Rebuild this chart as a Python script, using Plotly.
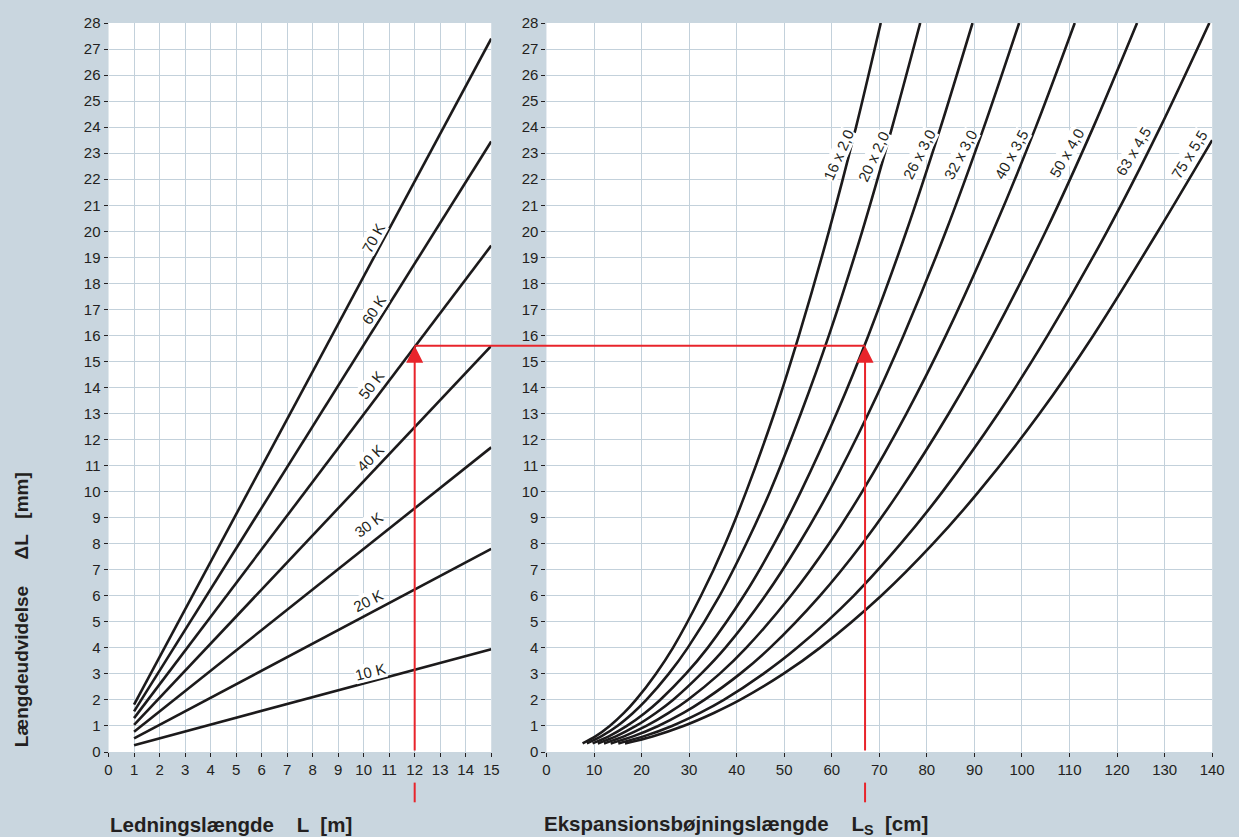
import plotly.graph_objects as go

# ---------------- data ----------------
# Left chart: linear expansion vs pipe length for temperature differences
delta_t = [10, 20, 30, 40, 50, 60, 70]
delta_t_labels = ["10 K", "20 K", "30 K", "40 K", "50 K", "60 K", "70 K"]
pipe_len_start = 1
pipe_len_end = 15
dl_at_start = [0.26, 0.52, 0.78, 1.04, 1.30, 1.56, 1.82]
dl_at_end = [3.95, 7.80, 11.70, 15.60, 19.45, 23.45, 27.40]

# Right chart: expansion bend length (cm) read at these ΔL levels (mm)
dl_levels = [0.33, 0.6, 1, 1.5, 2, 3, 4, 6, 8, 10, 13, 16, 20, 24, 28]
ls_16x20 = [7.6, 10.3, 13.3, 16.3, 18.8, 23.0, 26.6, 32.5, 37.6, 42.0, 47.9, 53.1, 59.4, 65.1, 70.3]
ls_20x20 = [8.5, 11.5, 14.9, 18.2, 21.0, 25.7, 29.7, 36.4, 42.0, 47.0, 53.5, 59.4, 66.4, 72.7, 78.6]
ls_26x30 = [9.7, 13.1, 16.9, 20.7, 23.9, 29.3, 33.9, 41.5, 47.9, 53.5, 61.0, 67.7, 75.7, 82.9, 89.6]
ls_32x30 = [10.8, 14.6, 18.8, 23.0, 26.6, 32.5, 37.6, 46.0, 53.1, 59.4, 67.7, 75.1, 84.0, 92.0, 99.4]
ls_40x35 = [12.1, 16.3, 21.0, 25.7, 29.7, 36.4, 42.0, 51.4, 59.4, 66.4, 75.7, 84.0, 93.9, 102.9, 111.1]
ls_50x40 = [13.5, 18.2, 23.5, 28.8, 33.2, 40.7, 47.0, 57.5, 66.4, 74.2, 84.6, 93.9, 105.0, 115.0, 124.2]
ls_63x45 = [15.1, 20.4, 26.4, 32.3, 37.3, 45.6, 52.7, 64.6, 74.5, 83.3, 95.0, 105.4, 117.9, 129.1, 139.4]
dl_levels_75 = [0.33, 0.6, 1, 1.5, 2, 3, 4, 6, 8, 10, 13, 16, 20, 23.5]
ls_75x55 = [16.5, 22.3, 28.8, 35.2, 40.7, 49.8, 57.5, 70.4, 81.3, 90.9, 103.7, 115.0, 128.6, 140.0]
pipe_labels = ["16 x 2,0", "20 x 2,0", "26 x 3,0", "32 x 3,0", "40 x 3,5", "50 x 4,0", "63 x 4,5", "75 x 5,5"]

# Example reading (red construction)
ex_len = 12
ex_dl = 15.6
ex_ls = 67

# Tick labels
left_x_ticks = list(range(0, 16))
right_x_ticks = list(range(0, 141, 10))
y_ticks = list(range(0, 29))

# ---------------- style ----------------
BG = "#c9d6df"
GRID = "#c3d1db"
INK = "#1c1a1b"
TXT = "#231f20"
RED = "#e8242b"
FONT = "Liberation Sans, Arial, sans-serif"

W, H = 1239, 837
L_DOM = [106 / W, 494 / W]
R_DOM = [550 / W, 1225 / W]

fig = go.Figure()

# left lines
for a, b in zip(dl_at_start, dl_at_end):
    fig.add_trace(go.Scatter(x=[pipe_len_start, pipe_len_end], y=[a, b], mode="lines",
                             line=dict(color=INK, width=2.6), xaxis="x", yaxis="y",
                             hoverinfo="skip", showlegend=False))

# right curves
curves = [(dl_levels, ls_16x20), (dl_levels, ls_20x20), (dl_levels, ls_26x30), (dl_levels, ls_32x30),
          (dl_levels, ls_40x35), (dl_levels, ls_50x40), (dl_levels, ls_63x45), (dl_levels_75, ls_75x55)]
for lv, ls in curves:
    fig.add_trace(go.Scatter(x=ls, y=lv, mode="lines",
                             line=dict(color=INK, width=2.6, shape="spline", smoothing=0.8),
                             xaxis="x2", yaxis="y2", hoverinfo="skip", showlegend=False))

axis_common = dict(showgrid=True, gridcolor=GRID, gridwidth=1, zeroline=False,
                   ticks="outside", ticklen=4, tickcolor=TXT, tickwidth=1,
                   tickfont=dict(family=FONT, size=15, color=TXT), showline=False)

fig.update_layout(
    autosize=True,
    paper_bgcolor=BG, plot_bgcolor="white",
    margin=dict(l=0, r=0, t=23, b=85),
    showlegend=False,
    xaxis=dict(domain=L_DOM, range=[0, 15], tickvals=left_x_ticks, anchor="y", **axis_common),
    yaxis=dict(domain=[0, 1], range=[0, 28], tickvals=y_ticks, anchor="x", **axis_common),
    xaxis2=dict(domain=R_DOM, range=[0, 140], tickvals=right_x_ticks, anchor="y2", **axis_common),
    yaxis2=dict(domain=[0, 1], range=[0, 28], tickvals=y_ticks, anchor="x2", **axis_common),
)

def lx(v):
    return L_DOM[0] + v / 15 * (L_DOM[1] - L_DOM[0])

def rx(v):
    return R_DOM[0] + v / 140 * (R_DOM[1] - R_DOM[0])

# red construction lines
fig.add_shape(type="line", xref="paper", yref="y", x0=lx(ex_len), x1=rx(ex_ls), y0=ex_dl, y1=ex_dl,
              line=dict(color=RED, width=2))
for xp in (lx(ex_len), rx(ex_ls)):
    fig.add_shape(type="line", xref="paper", yref="paper", x0=xp, x1=xp, y0=-0.042, y1=-0.069,
                  line=dict(color=RED, width=2))
fig.add_annotation(x=ex_len, y=ex_dl, ax=ex_len, ay=0, xref="x", yref="y", axref="x", ayref="y",
                   text="", showarrow=True, arrowhead=2, arrowsize=1.7, arrowwidth=2, arrowcolor=RED)
fig.add_annotation(x=ex_ls, y=ex_dl, ax=ex_ls, ay=0, xref="x2", yref="y2", axref="x2", ayref="y2",
                   text="", showarrow=True, arrowhead=2, arrowsize=1.7, arrowwidth=2, arrowcolor=RED)

# left curve labels
left_lab_pos = [(10.28, 3.08, -14), (10.2, 5.8, -27), (10.2, 8.75, -37), (10.28, 11.3, -45),
                (10.32, 14.1, -52), (10.4, 17.0, -57), (10.4, 19.75, -61)]
for txt, (x, y, ang) in zip(delta_t_labels, left_lab_pos):
    fig.add_annotation(x=x, y=y, xref="x", yref="y", text=txt, showarrow=False, textangle=ang,
                       font=dict(family=FONT, size=15, color=TXT), bgcolor="white", borderpad=0)

# right curve labels
right_lab_pos = [(61.5, 22.94, -66), (68.8, 22.87, -65), (78.4, 22.94, -63), (87.1, 22.94, -62),
                 (97.8, 22.94, -61), (109.3, 23.0, -60), (123.4, 23.06, -59), (135.2, 22.94, -58)]
for txt, (x, y, ang) in zip(pipe_labels, right_lab_pos):
    fig.add_annotation(x=x, y=y, xref="x2", yref="y2", text=txt, showarrow=False, textangle=ang,
                       font=dict(family=FONT, size=15, color=TXT), bgcolor="white", borderpad=0)

# axis titles
TITLE_FONT = dict(family=FONT, size=20.5, color=TXT)
fig.add_annotation(x=105 / W, y=-0.1, xref="paper", yref="paper", xanchor="left", yanchor="middle",
                   text="<b>Ledningslængde    L  [m]</b>", showarrow=False, font=TITLE_FONT)
fig.add_annotation(x=545 / W, y=-0.1, xref="paper", yref="paper", xanchor="left", yanchor="middle",
                   text="<b>Ekspansionsbøjningslængde    L<sub>S</sub>  [cm]</b>", showarrow=False,
                   font=TITLE_FONT)
fig.add_annotation(x=18 / W, y=0.004, xref="paper", yref="paper", xanchor="center", yanchor="bottom",
                   text="<b>Længdeudvidelse     ΔL   [mm]</b>", showarrow=False, textangle=-90,
                   font=dict(family=FONT, size=19, color=TXT))

fig.write_html(
    "out.html",
    config={"displayModeBar": False, "responsive": True},
    default_width="100vw",
    default_height="100vh",
    post_script=("document.body.style.margin='0';document.body.style.overflow='hidden';"
                 "document.documentElement.style.overflow='hidden';"
                 "Plotly.Plots.resize(document.getElementById('{plot_id}'));"),
)
